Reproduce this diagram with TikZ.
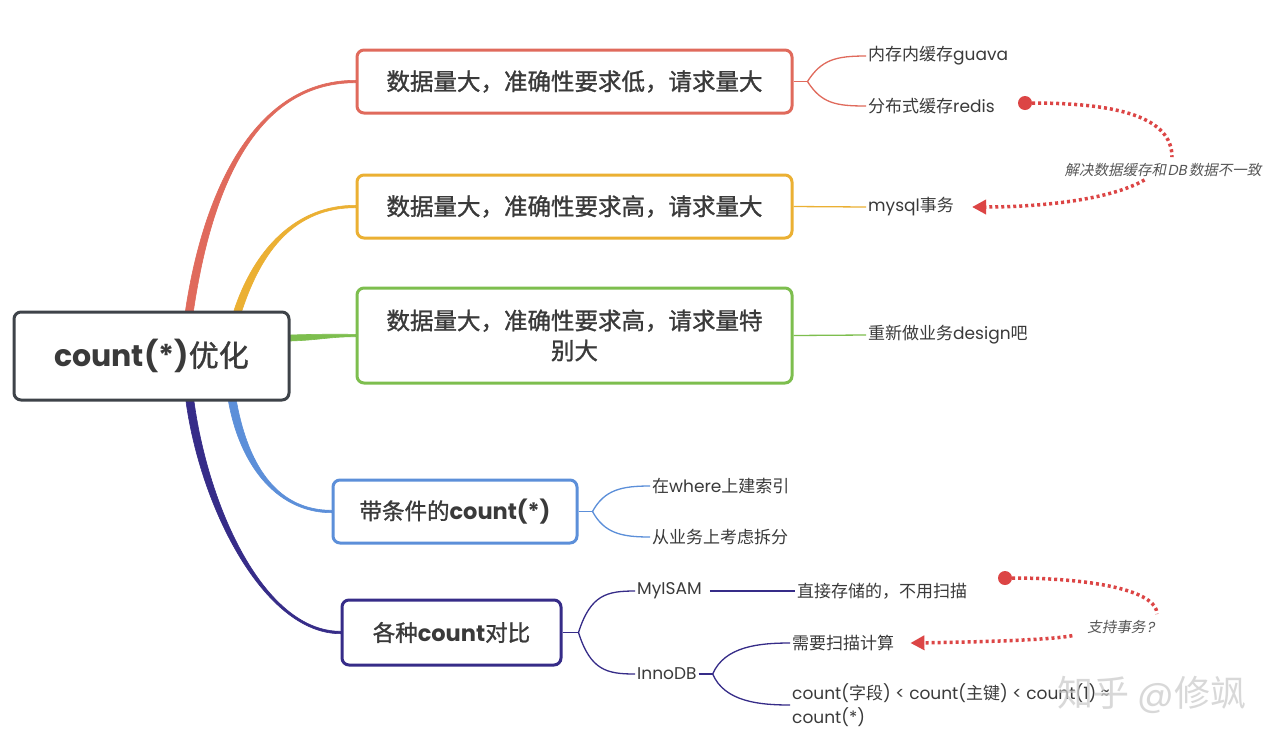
\documentclass[tikz,border=0pt]{standalone}
\usepackage{fontspec}
\setmainfont{Noto Sans CJK SC}
\newfontfamily\cjkit[FakeSlant=0.2]{Noto Sans CJK SC}
\newfontfamily\cjksemi[FakeBold=1.2]{Noto Sans CJK SC}
\newfontfamily\latf{Poppins}
\newfontfamily\latit[FakeSlant=0.2]{Poppins}
\newcommand{\lt}[1]{{\latf #1}}
\newcommand{\lti}[1]{\kern1.5pt{\latit #1}\kern2pt}
\usetikzlibrary{arrows.meta,backgrounds}
\definecolor{cred}{HTML}{E06A5C}
\definecolor{corange}{HTML}{EBB033}
\definecolor{cgreen}{HTML}{7DBE4E}
\definecolor{cblue}{HTML}{5C8FD9}
\definecolor{cnavy}{HTML}{362C88}
\definecolor{croot}{HTML}{3E4349}
\definecolor{txt}{HTML}{3A3A3A}
\definecolor{notec}{HTML}{555555}
\definecolor{dotred}{HTML}{DC4545}
\tikzset{
  box/.style={draw, rounded corners=7pt, line width=3pt, fill=white, align=center, inner sep=0pt, text=txt,
    font=\cjksemi\fontsize{23.5}{30}\selectfont},
  leaf/.style={anchor=west, inner sep=2pt, text=txt, font=\fontsize{17}{24}\selectfont},
  branch/.style={line width=0.6pt, line join=round},
  twig/.style={line width=1.3pt},
  note/.style={text=notec, inner sep=1pt, font=\cjkit\fontsize{14.5}{18}\selectfont},
  dotline/.style={draw=dotred, line width=3.5pt, dash pattern=on 3pt off 3pt},
  dotend/.style={circle, fill=dotred, inner sep=0pt, minimum size=14pt},
}
\begin{document}
\begin{tikzpicture}[x=1pt,y=-1pt]
\useasboundingbox (0,0) rectangle (1272,740);

% main nodes
\node[box, draw=croot, minimum width=275pt, minimum height=88pt,
      font=\fontsize{30}{36}\selectfont] (root) at (151.5,356) {{\bfseries\lt{count(*)}}{\cjksemi 优化}};
\node[box, draw=cred, minimum width=435pt, minimum height=63pt] (b1) at (574.5,81.5) {数据量大，准确性要求低，请求量大};
\node[box, draw=corange, minimum width=435pt, minimum height=63pt] (b2) at (574.5,206.5) {数据量大，准确性要求高，请求量大};
\node[box, draw=cgreen, minimum width=435pt, minimum height=95pt] (b3) at (574.5,335.5) {数据量大，准确性要求高，请求量特\\别大};
\node[box, draw=cblue, minimum width=244pt, minimum height=63pt, font=\cjksemi\fontsize{22.5}{30}\selectfont] (b4) at (455,511.5) {带条件的{\bfseries\lt{count(*)}}};
\node[box, draw=cnavy, minimum width=219pt, minimum height=65pt, font=\cjksemi\fontsize{22.5}{30}\selectfont] (b5) at (451.5,632.5) {各种{\bfseries\lt{count}}对比};

% leaves
\node[leaf] (l11) at (866,56) {内存内缓存\lt{guava}};
\node[leaf] (l12) at (866,106) {分布式缓存\lt{redis}};
\node[leaf] (l2) at (866,207) {\lt{mysql}事务};
\node[leaf] (l3) at (866,335) {重新做业务\lt{design}吧};
\node[leaf] (l41) at (650,486) {在\lt{where}上建索引};
\node[leaf] (l42) at (650,537) {从业务上考虑拆分};
\node[leaf] (l51) at (635,591) {\lt{MyISAM}};
\node[leaf] (l52) at (635,674) {\lt{InnoDB}};
\node[leaf] (l511) at (795,591) {直接存储的，不用扫描};
\node[leaf] (l521) at (790,643) {需要扫描计算};
\node[leaf, align=left] (l522) at (790,705) {\lt{count(}字段\lt{) < count(}主键\lt{) < count(1) ≈}\\\lt{count(*)}};

% notes
\node[note] (n1) at (1163,170) {解决数据缓存和\lti{DB}数据不一致};
\node[note] (n2) at (1122,627) {支持事务\lti{?}};
\node[dotend] (d1) at (1025,103) {};
\node[dotend] (d2) at (1005,578) {};

% watermark
\node[text=gray!40, opacity=0.75, font=\fontsize{36}{40}\selectfont] (wm) at (1152,695) {知乎 \lt{@}修飒};

\begin{scope}[on background layer]
  \fill[white] (0,0) rectangle (1272,740);
  % tapered branches (root -> main topics)
  \filldraw[branch, fill=cred, draw=cred]
    ([xshift=34pt]root.north) .. controls (202,200) and (250,80.3) .. ([yshift=1.2pt]b1.west)
    -- ([yshift=-1.2pt]b1.west) .. controls (250,82.7) and (210,200) .. ([xshift=42pt]root.north) -- cycle;
  \filldraw[branch, fill=corange, draw=corange]
    ([xshift=82.5pt]root.north) .. controls (254,250) and (295,205.3) .. ([yshift=1.2pt]b2.west)
    -- ([yshift=-1.2pt]b2.west) .. controls (295,207.7) and (262,250) .. ([xshift=90.5pt]root.north) -- cycle;
  \filldraw[branch, fill=cgreen, draw=cgreen]
    ([yshift=21pt]root.east) .. controls (320,334) and (330,334.3) .. ([yshift=1.2pt]b3.west)
    -- ([yshift=-1.2pt]b3.west) .. controls (330,336.7) and (320,340) .. ([yshift=15pt]root.east) -- cycle;
  \filldraw[branch, fill=cblue, draw=cblue]
    ([xshift=77pt]root.south) .. controls (241,470) and (280,512.7) .. ([yshift=-1.2pt]b4.west)
    -- ([yshift=1.2pt]b4.west) .. controls (280,510.3) and (249,470) .. ([xshift=85pt]root.south) -- cycle;
  \filldraw[branch, fill=cnavy, draw=cnavy]
    ([xshift=34.5pt]root.south) .. controls (201,510) and (265,633.7) .. ([yshift=-1.2pt]b5.west)
    -- ([yshift=1.2pt]b5.west) .. controls (265,631.3) and (209,510) .. ([xshift=42.5pt]root.south) -- cycle;
\end{scope}

% twigs
\draw[twig, draw=cred] (b1.east) -- ++(14,0) coordinate (f1);
\draw[twig, draw=cred] (f1) .. controls +(14,-22) and +(-30,0) .. (l11.west);
\draw[twig, draw=cred] (f1) .. controls +(14,22) and +(-30,0) .. (l12.west);
\draw[twig, draw=corange] (b2.east) -- (l2.west);
\draw[twig, draw=cgreen] (b3.east) -- (l3.west);
\draw[twig, draw=cblue] (b4.east) -- ++(14,0) coordinate (f4);
\draw[twig, draw=cblue] (f4) .. controls +(12,-22) and +(-28,0) .. (l41.west);
\draw[twig, draw=cblue] (f4) .. controls +(12,22) and +(-28,0) .. (l42.west);
\draw[twig, draw=cnavy] (b5.east) -- ++(16,0) coordinate (f5);
\draw[twig, draw=cnavy] (f5) .. controls +(12,-38) and +(-28,0) .. (l51.west);
\draw[twig, draw=cnavy] (f5) .. controls +(12,38) and +(-28,0) .. (l52.west);
\draw[twig, draw=cnavy] ([xshift=6pt]l51.east) -- (l511.west);
\draw[twig, draw=cnavy] (l52.east) -- ++(14,0) coordinate (f52);
\draw[twig, draw=cnavy] (f52) .. controls +(12,-28) and +(-30,0) .. (l521.west);
\draw[twig, draw=cnavy] (f52) .. controls +(12,28) and +(-30,0) .. (l522.west);

% dotted relations
\draw[dotline, shorten >=5pt] (d1) .. controls (1120,103) and (1172,118) .. ([xshift=9pt]n1.north);
\draw[dotline, shorten <=4pt, -{Triangle[length=14pt,width=14pt]}] ([xshift=-15pt]n1.south) .. controls (1110,200) and (1040,207) .. ([xshift=16pt]l2.east);
\draw[dotline, shorten >=5pt] (d2) .. controls (1090,578) and (1157,590) .. ([xshift=35pt]n2.north);
\draw[dotline, shorten <=4pt, -{Triangle[length=14pt,width=14pt]}] ([xshift=-10pt]n2.south west) .. controls (1050,640) and (980,642) .. ([xshift=14pt]l521.east);
\end{tikzpicture}
\end{document}
